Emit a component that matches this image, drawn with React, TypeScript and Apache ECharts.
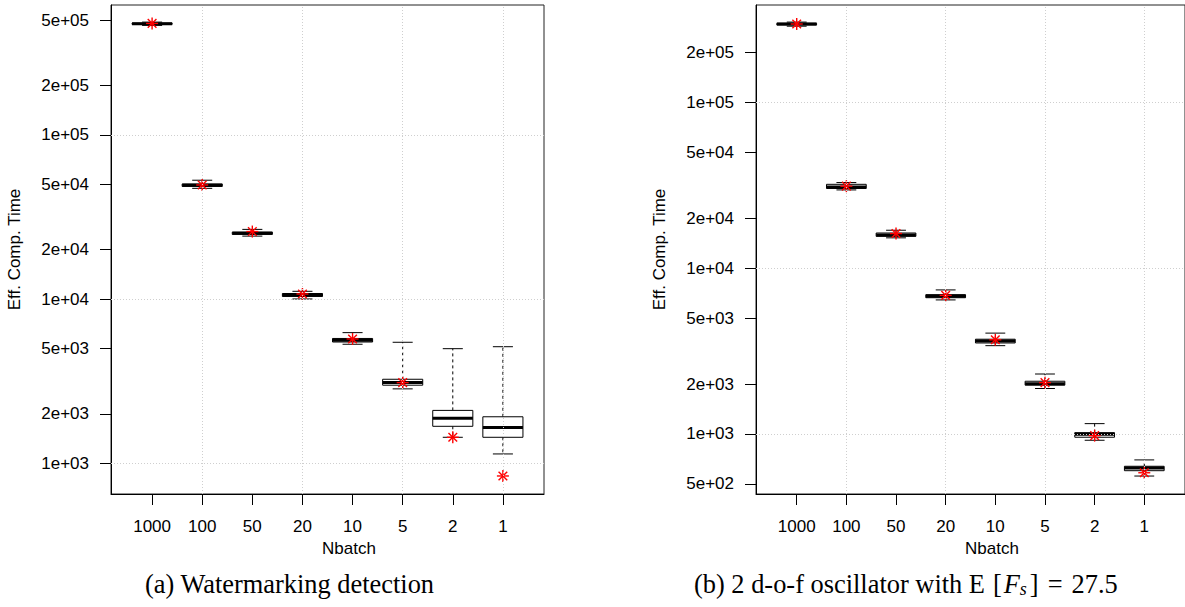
import React, { useEffect, useRef } from "react";
import * as echarts from "echarts";

const categories = ["1000", "100", "50", "20", "10", "5", "2", "1"];
const xPositions = [1, 2, 3, 4, 5, 6, 7, 8];

// (a) Watermarking detection
const leftMin = [4.65e5, 4.73e4, 2.42e4, 1.002e4, 5.31e3, 2.84e3, 1.44e3, 1.14e3];
const leftQ1 = [4.72e5, 4.86e4, 2.48e4, 1.038e4, 5.48e3, 2.99e3, 1.68e3, 1.44e3];
const leftMedian = [4.76e5, 4.94e4, 2.52e4, 1.06e4, 5.61e3, 3.11e3, 1.88e3, 1.65e3];
const leftQ3 = [4.8e5, 5.03e4, 2.56e4, 1.082e4, 5.76e3, 3.25e3, 2.1e3, 1.92e3];
const leftMax = [4.87e5, 5.3e4, 2.66e4, 1.116e4, 6.25e3, 5.46e3, 4.99e3, 5.13e3];
const leftStar = [4.78e5, 4.96e4, 2.58e4, 1.075e4, 5.72e3, 3.1e3, 1.44e3, 837];

// (b) 2 d-o-f oscillator
const rightMin = [2.89e5, 2.97e4, 1.526e4, 6.44e3, 3.41e3, 1.88e3, 916, 557];
const rightQ1 = [2.94e5, 3.03e4, 1.558e4, 6.64e3, 3.54e3, 1.97e3, 955, 600];
const rightMedian = [2.975e5, 3.09e4, 1.59e4, 6.77e3, 3.64e3, 2.01e3, 996, 623];
const rightQ3 = [3.01e5, 3.21e4, 1.632e4, 6.93e3, 3.73e3, 2.08e3, 1018, 638];
const rightMax = [3.06e5, 3.29e4, 1.696e4, 7.4e3, 4.06e3, 2.3e3, 1154, 697];
const rightStar = [2.98e5, 3.13e4, 1.62e4, 6.86e3, 3.7e3, 2.04e3, 977, 583];

const leftTicks = [1e3, 2e3, 5e3, 1e4, 2e4, 5e4, 1e5, 2e5, 5e5];
const rightTicks = [5e2, 1e3, 2e3, 5e3, 1e4, 2e4, 5e4, 1e5, 2e5];
const gridX = [2, 4, 6, 8];
const gridY = [1e3, 1e4, 1e5];

const SANS = "'Liberation Sans', Arial, Helvetica, sans-serif";
const SERIF = "'Liberation Serif', 'DejaVu Serif', serif";

function fmtExp(v: number): string {
  const s = v.toExponential(0);
  const [m, e] = s.split("e");
  const sign = e[0];
  const d = e.slice(1).padStart(2, "0");
  return m + "e" + sign + d;
}

function boxRender(params: any, api: any) {
  const x = api.value(0);
  const mn = api.value(1);
  const q1 = api.value(2);
  const md = api.value(3);
  const q3 = api.value(4);
  const mx = api.value(5);
  const c = (xx: number, v: number) => api.coord([xx, v]);
  const pMin = c(x, mn);
  const pQ1 = c(x, q1);
  const pMd = c(x, md);
  const pQ3 = c(x, q3);
  const pMax = c(x, mx);
  const xl = c(x - 0.4, md)[0];
  const xr = c(x + 0.4, md)[0];
  const sl = c(x - 0.2, md)[0];
  const sr = c(x + 0.2, md)[0];
  const cx = pMd[0];
  const stroke = "#000";
  return {
    type: "group",
    children: [
      {
        type: "line",
        shape: { x1: cx, y1: pQ3[1], x2: cx, y2: pMax[1] },
        style: { stroke, lineWidth: 1, lineDash: [3, 3] },
      },
      {
        type: "line",
        shape: { x1: cx, y1: pQ1[1], x2: cx, y2: pMin[1] },
        style: { stroke, lineWidth: 1, lineDash: [3, 3] },
      },
      {
        type: "line",
        shape: { x1: sl, y1: pMax[1], x2: sr, y2: pMax[1] },
        style: { stroke, lineWidth: 1 },
      },
      {
        type: "line",
        shape: { x1: sl, y1: pMin[1], x2: sr, y2: pMin[1] },
        style: { stroke, lineWidth: 1 },
      },
      {
        type: "rect",
        shape: { x: xl, y: pQ3[1], width: xr - xl, height: pQ1[1] - pQ3[1] },
        style: { fill: "#fff", stroke, lineWidth: 1 },
      },
      {
        type: "line",
        shape: { x1: xl, y1: pMd[1], x2: xr, y2: pMd[1] },
        style: { stroke, lineWidth: 3 },
      },
    ],
  };
}

function starRender(params: any, api: any) {
  const p = api.coord([api.value(0), api.value(1)]);
  const r = 6;
  const d = r * 0.72;
  const style = { stroke: "#ff0000", lineWidth: 1.4 };
  return {
    type: "group",
    children: [
      { type: "line", shape: { x1: p[0] - r, y1: p[1], x2: p[0] + r, y2: p[1] }, style },
      { type: "line", shape: { x1: p[0], y1: p[1] - r, x2: p[0], y2: p[1] + r }, style },
      { type: "line", shape: { x1: p[0] - d, y1: p[1] - d, x2: p[0] + d, y2: p[1] + d }, style },
      { type: "line", shape: { x1: p[0] - d, y1: p[1] + d, x2: p[0] + d, y2: p[1] - d }, style },
    ],
  };
}

function xAxisDef(gridIndex: number) {
  return {
    type: "value",
    gridIndex,
    min: 0.18,
    max: 8.82,
    name: "Nbatch",
    nameLocation: "middle",
    nameGap: 44,
    nameTextStyle: { fontFamily: SANS, fontSize: 17, color: "#000", padding: [0, 0, 0, 43] },
    axisLine: { show: true, lineStyle: { color: "#000", width: 1 } },
    axisTick: { show: true, inside: false, length: 11, customValues: xPositions, lineStyle: { color: "#000" } },
    axisLabel: {
      show: true,
      customValues: xPositions,
      margin: 24,
      fontFamily: SANS,
      fontSize: 17,
      color: "#000",
      formatter: (v: number) => categories[Math.round(v) - 1] ?? "",
    },
    splitLine: { show: false },
  };
}

function yAxisDef(gridIndex: number, min: number, max: number, ticks: number[]) {
  return {
    type: "log",
    gridIndex,
    min,
    max,
    name: "Eff. Comp. Time",
    nameLocation: "middle",
    nameRotate: 90,
    nameGap: 88,
    nameTextStyle: { fontFamily: SANS, fontSize: 17, color: "#000" },
    axisLine: { show: true, lineStyle: { color: "#000", width: 1 } },
    axisTick: { show: true, inside: false, length: 11, customValues: ticks, lineStyle: { color: "#000" } },
    axisLabel: {
      show: true,
      customValues: ticks,
      margin: 22,
      fontFamily: SANS,
      fontSize: 17,
      color: "#000",
      formatter: (v: number) => fmtExp(v),
    },
    splitLine: { show: false },
    minorTick: { show: false },
  };
}

function seriesFor(idx: number, mins: number[], q1s: number[], meds: number[], q3s: number[], maxs: number[], stars: number[]) {
  const boxData = xPositions.map((x, i) => [x, mins[i], q1s[i], meds[i], q3s[i], maxs[i]]);
  const starData = xPositions.map((x, i) => [x, stars[i]]);
  return [
    {
      type: "line",
      xAxisIndex: idx,
      yAxisIndex: idx,
      data: [],
      z: 1,
      markLine: {
        silent: true,
        symbol: ["none", "none"],
        label: { show: false },
        lineStyle: { type: [1, 2], color: "#cfcfcf", width: 1 },
        data: [...gridX.map((v) => ({ xAxis: v })), ...gridY.map((v) => ({ yAxis: v }))],
      },
    },
    {
      type: "custom",
      xAxisIndex: idx,
      yAxisIndex: idx,
      z: 2,
      renderItem: boxRender,
      encode: { x: 0, y: [1, 2, 3, 4, 5] },
      data: boxData,
    },
    {
      type: "custom",
      xAxisIndex: idx,
      yAxisIndex: idx,
      z: 3,
      renderItem: starRender,
      encode: { x: 0, y: 1 },
      data: starData,
    },
  ];
}

const CAP = 26.4;

export default function App() {
  const ref = useRef<HTMLDivElement>(null);
  useEffect(() => {
    document.body.style.margin = "0";
    if (!ref.current) return;
    const chart = echarts.init(ref.current, null, { renderer: "svg" });
    chart.setOption({
      animation: false,
      backgroundColor: "#fff",
      grid: [
        { left: 111, top: 5, width: 433, height: 489, show: true, borderColor: "#222", borderWidth: 1, backgroundColor: "transparent" },
        { left: 756, top: 5, width: 433, height: 489, show: true, borderColor: "#222", borderWidth: 1, backgroundColor: "transparent" },
      ],
      xAxis: [xAxisDef(0), xAxisDef(1)],
      yAxis: [yAxisDef(0, 650, 6.19e5, leftTicks), yAxisDef(1, 434, 3.88e5, rightTicks)],
      series: [
        ...seriesFor(0, leftMin, leftQ1, leftMedian, leftQ3, leftMax, leftStar),
        ...seriesFor(1, rightMin, rightQ1, rightMedian, rightQ3, rightMax, rightStar),
      ],
      graphic: [
        {
          type: "text",
          left: 145,
          top: 571,
          style: {
            text: "(a) Watermarking detection",
            fontFamily: SERIF,
            fontSize: CAP,
            fill: "#000",
          },
        },
        {
          type: "text",
          left: 694,
          top: 571,
          style: {
            text: "(b) 2 d-o-f oscillator with E{br|[}{it|F}{sub|s}{br2|]}{eq|=}{n|27.5}",
            fontFamily: SERIF,
            fontSize: CAP,
            fill: "#000",
            rich: {
              br: { fontFamily: SERIF, fontSize: CAP, fill: "#000", padding: [0, 2, 0, 8] },
              br2: { fontFamily: SERIF, fontSize: CAP, fill: "#000", padding: [0, 0, 0, 2] },
              it: { fontFamily: SERIF, fontSize: CAP, fontStyle: "italic", fill: "#000" },
              sub: { fontFamily: SERIF, fontSize: 18, fontStyle: "italic", fill: "#000", padding: [10, 1, 0, 0] },
              eq: { fontFamily: SERIF, fontSize: CAP, fill: "#000", padding: [0, 9, 0, 9] },
              n: { fontFamily: SERIF, fontSize: CAP, fill: "#000" },
            },
          },
        },
      ],
    });
    return () => chart.dispose();
  }, []);
  return <div ref={ref} style={{ width: 1185, height: 607 }} />;
}
